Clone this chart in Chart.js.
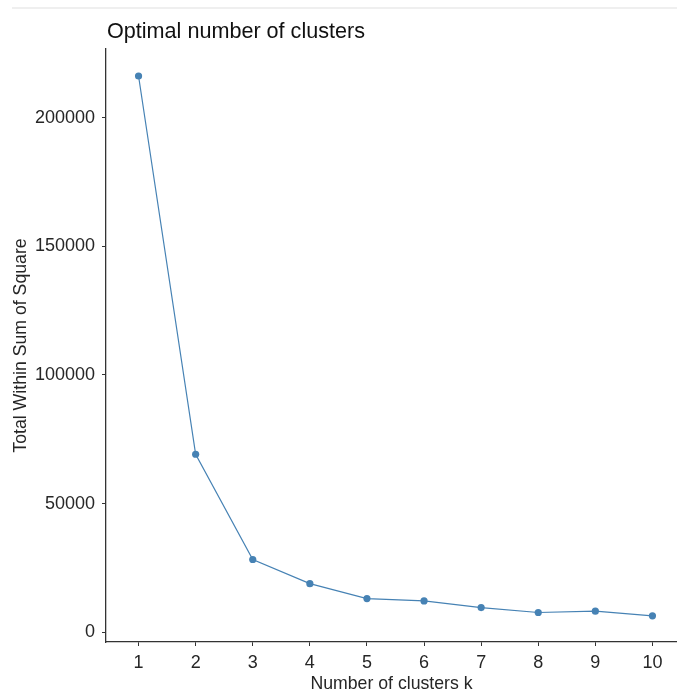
<!DOCTYPE html>
<html>
<head>
<meta charset="utf-8">
<script src="https://cdn.jsdelivr.net/npm/chart.js@4/dist/chart.umd.min.js"></script>
<style>
  body { margin: 0; background: #fff; overflow: hidden; }
  #wrap { position: relative; width: 677px; height: 691px; }
</style>
</head>
<body>
<div id="wrap"><canvas id="elbow"></canvas></div>
<script>
// data
const kValues = [1, 2, 3, 4, 5, 6, 7, 8, 9, 10];
const wssValues = [216200, 69200, 28300, 18900, 13100, 12200, 9600, 7700, 8200, 6400];
const yTickValues = [0, 50000, 100000, 150000, 200000];

const chartTitle = 'Optimal number of clusters';
const xTitle = 'Number of clusters k';
const yTitle = 'Total Within Sum of Square';

const FONT = '"Liberation Sans", Arial, sans-serif';
const LINE_COLOR = '#4682B4';
const AXIS_COLOR = '#333333';
const TEXT_COLOR = '#262626';

// title + the faint rule at the very top
const decor = {
  id: 'decor',
  beforeDraw(chart) {
    const ctx = chart.ctx;
    ctx.save();
    ctx.fillStyle = '#fff';
    ctx.fillRect(0, 0, chart.width, chart.height);
    ctx.fillStyle = '#efefef';
    ctx.fillRect(12, 7, chart.width - 12, 2);
    ctx.restore();
  },
  afterDraw(chart) {
    const ctx = chart.ctx;
    ctx.save();
    ctx.fillStyle = '#111';
    ctx.font = '21.6px ' + FONT;
    ctx.textBaseline = 'alphabetic';
    ctx.textAlign = 'left';
    ctx.fillText(chartTitle, chart.chartArea.left + 1, 38);
    ctx.restore();
  }
};

function axisTicks(values) {
  return function (scale) {
    scale.ticks = values.map(v => ({ value: v }));
  };
}

new Chart(document.getElementById('elbow'), {
  type: 'line',
  data: {
    datasets: [{
      data: kValues.map((k, i) => ({ x: k, y: wssValues[i] })),
      borderColor: LINE_COLOR,
      backgroundColor: LINE_COLOR,
      borderWidth: 1.2,
      pointRadius: 3.6,
      pointHoverRadius: 3.6,
      pointBorderWidth: 0,
      tension: 0
    }]
  },
  options: {
    responsive: true,
    maintainAspectRatio: false,
    animation: false,
    layout: { autoPadding: false, padding: { top: 49, left: 0, right: 0, bottom: 0 } },
    plugins: {
      legend: { display: false },
      tooltip: { enabled: false }
    },
    scales: {
      x: {
        type: 'linear',
        position: 'bottom',
        min: 0.43,
        max: 10.43,
        afterBuildTicks: axisTicks(kValues),
        afterFit(scale) {
          scale.height = 49;
          scale.paddingLeft = 0;
          scale.paddingRight = 0;
        },
        grid: { drawOnChartArea: false, drawTicks: true, tickLength: 4, color: AXIS_COLOR, lineWidth: 1 },
        border: { display: true, color: AXIS_COLOR, width: 1.3 },
        ticks: {
          color: TEXT_COLOR,
          font: { family: FONT, size: 18 },
          padding: 6,
          maxRotation: 0,
          autoSkip: false
        },
        title: {
          display: true,
          text: xTitle,
          color: TEXT_COLOR,
          font: { family: FONT, size: 17.7, lineHeight: 1 },
          padding: { top: 0, bottom: -2 }
        }
      },
      y: {
        type: 'linear',
        min: -3772,
        max: 226700,
        afterBuildTicks: axisTicks(yTickValues),
        afterFit(scale) { scale.width = 106; },
        grid: { drawOnChartArea: false, drawTicks: true, tickLength: 4, color: AXIS_COLOR, lineWidth: 1 },
        border: { display: true, color: AXIS_COLOR, width: 1.3 },
        ticks: {
          color: TEXT_COLOR,
          font: { family: FONT, size: 18 },
          padding: 7,
          callback: v => String(v)
        },
        title: {
          display: true,
          text: yTitle,
          color: TEXT_COLOR,
          font: { family: FONT, size: 17.7, lineHeight: 1 },
          padding: { top: 12, bottom: 0 }
        }
      }
    }
  },
  plugins: [decor]
});
</script>
</body>
</html>
